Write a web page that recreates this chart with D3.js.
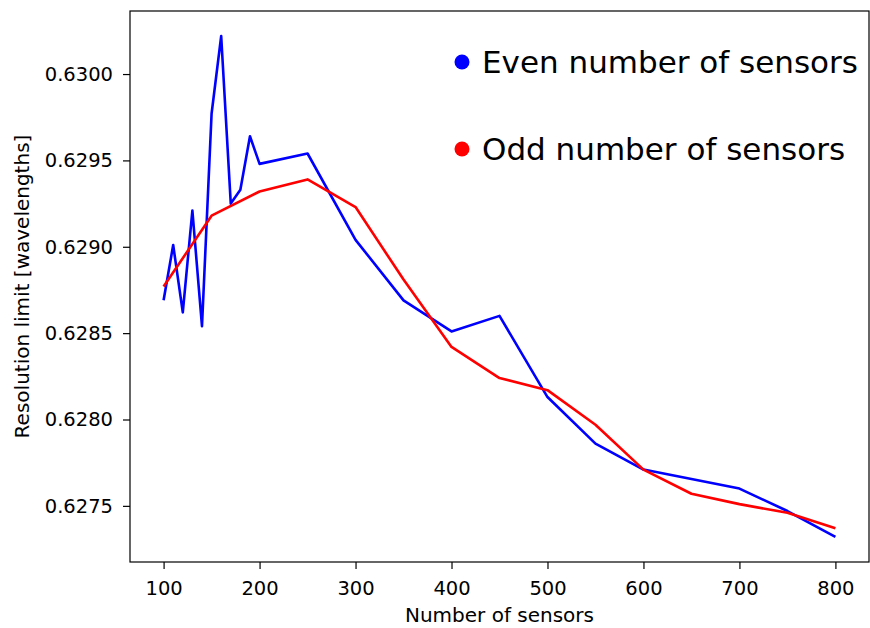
<!DOCTYPE html>
<html>
<head>
<meta charset="utf-8">
<script src="https://cdn.jsdelivr.net/npm/d3@7"></script>
<style>
  body { margin: 0; background: #fff; }
  text { font-family: "DejaVu Sans", sans-serif; fill: #000; }
</style>
</head>
<body>
<div id="chart"></div>
<script>
// number of sensors and resolution limit
var evenN = [100, 110, 120, 130, 140, 150, 160, 170, 180, 190, 200, 250, 300, 350, 400, 450, 500, 550, 600, 700, 750, 800];
var evenRes = [0.62869, 0.62901, 0.62862, 0.62921, 0.62854, 0.62977, 0.63022, 0.62925, 0.62933, 0.62964, 0.62948,
               0.62954, 0.62904, 0.62869, 0.62851, 0.62860, 0.62813, 0.62786, 0.62771, 0.62760, 0.62747, 0.62732];

var oddN = [100, 150, 200, 250, 300, 350, 400, 450, 500, 550, 600, 650, 700, 750, 800];
var oddRes = [0.62877, 0.62918, 0.62932, 0.62939, 0.62923, 0.62881, 0.62842, 0.62824, 0.62817, 0.62797,
              0.62771, 0.62757, 0.62751, 0.62746, 0.62737];

var xTicks = [100, 200, 300, 400, 500, 600, 700, 800];
var yTicks = [0.6275, 0.6280, 0.6285, 0.6290, 0.6295, 0.6300];

var seriesNames = ["Even number of sensors", "Odd number of sensors"];
var seriesColors = ["#0000ff", "#ff0000"];

// set the dimensions and margins of the graph
var margin = { top: 11, right: 1, bottom: 66, left: 130 },
    width = 870 - margin.left - margin.right,
    height = 628 - margin.top - margin.bottom;

var svg = d3.select("#chart")
    .append("svg")
    .attr("width", 870)
    .attr("height", 628)
    .append("g")
    .attr("transform", "translate(" + margin.left + "," + margin.top + ")");

// matplotlib-like 5% padding around the data
function padded(values) {
    var ext = d3.extent(values);
    var pad = (ext[1] - ext[0]) * 0.05;
    return [ext[0] - pad, ext[1] + pad];
}

var x = d3.scaleLinear().domain(padded(evenN.concat(oddN))).range([0, width]);
var y = d3.scaleLinear().domain(padded(evenRes.concat(oddRes))).range([height, 0]);

// X axis
var xAxis = svg.append("g")
    .attr("transform", "translate(0," + height + ")")
    .call(d3.axisBottom(x).tickValues(xTicks).tickSize(7).tickPadding(12).tickFormat(d3.format("d")));

// Y axis
var yAxis = svg.append("g")
    .call(d3.axisLeft(y).tickValues(yTicks).tickSize(7).tickPadding(10).tickFormat(d3.format(".4f")));

[xAxis, yAxis].forEach(function (a) {
    a.select(".domain").remove();
    a.selectAll("line").attr("stroke", "#000").attr("stroke-width", 1.2);
    a.selectAll("text").style("font-size", "19.5px").style("font-family", "DejaVu Sans");
});

// frame
svg.append("rect")
    .attr("x", 0)
    .attr("y", 0)
    .attr("width", width)
    .attr("height", height)
    .attr("fill", "none")
    .attr("stroke", "#000")
    .attr("stroke-width", 1.2);

// lines
var line = d3.line()
    .x(function (d) { return x(d[0]); })
    .y(function (d) { return y(d[1]); });

var evenData = evenN.map(function (n, i) { return [n, evenRes[i]]; });
var oddData = oddN.map(function (n, i) { return [n, oddRes[i]]; });

svg.append("path")
    .datum(evenData)
    .attr("fill", "none")
    .attr("stroke", seriesColors[0])
    .attr("stroke-width", 2.6)
    .attr("stroke-linejoin", "round")
    .attr("d", line);

svg.append("path")
    .datum(oddData)
    .attr("fill", "none")
    .attr("stroke", seriesColors[1])
    .attr("stroke-width", 2.6)
    .attr("stroke-linejoin", "round")
    .attr("d", line);

// legend
var legend = svg.append("g").attr("transform", "translate(332,0)");
seriesNames.forEach(function (name, i) {
    var gy = 51 + i * 87;
    legend.append("circle")
        .attr("cx", 0)
        .attr("cy", gy)
        .attr("r", 7.5)
        .attr("fill", seriesColors[i]);
    legend.append("text")
        .attr("x", 20)
        .attr("y", gy + 11)
        .style("font-size", "31px")
        .text(name);
});

// axis labels
svg.append("text")
    .attr("text-anchor", "middle")
    .attr("x", width / 2)
    .attr("y", height + 60)
    .style("font-size", "20px")
    .text("Number of sensors");

svg.append("text")
    .attr("text-anchor", "middle")
    .attr("transform", "translate(" + (-margin.left + 29) + "," + (height / 2) + ") rotate(-90)")
    .style("font-size", "20px")
    .text("Resolution limit [wavelengths]");
</script>
</body>
</html>
